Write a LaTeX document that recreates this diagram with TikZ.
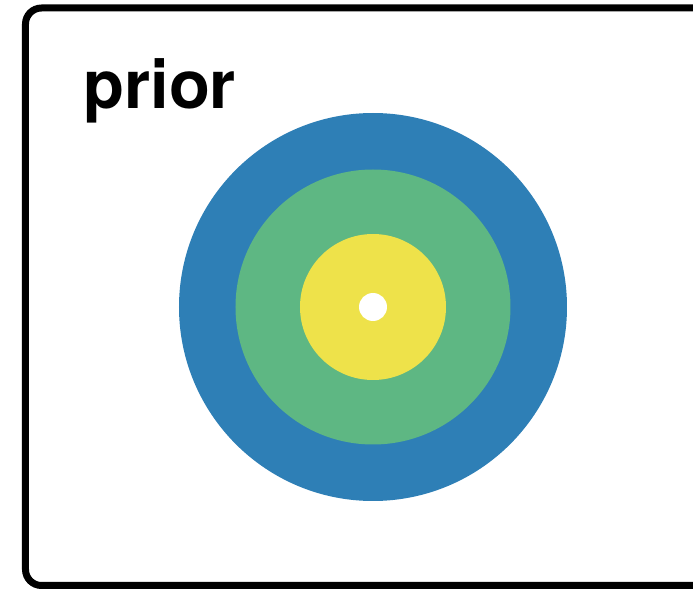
\documentclass[tikz,border=0pt]{standalone}
\usepackage{fontspec}
\setmainfont{TeX Gyre Heros}
\definecolor{cblue}{HTML}{2E7FB6}
\definecolor{cgreen}{HTML}{5EB783}
\definecolor{cyellow}{HTML}{EEE24A}
\begin{document}
\begin{tikzpicture}[x=0.5pt,y=-0.5pt,
  frame/.style={draw=black,line width=3.5pt,rounded corners=8pt},
  ring/.style={circle,inner sep=0pt,draw=none}]
\useasboundingbox (0,0) rectangle (693,589);
\clip (0,0) rectangle (693,589);
\draw[frame] (25.5,8) rectangle (740,585.5);
\node[ring,fill=cblue,minimum size=194pt] (blue) at (373,307) {};
\node[ring,fill=cgreen,minimum size=137.5pt] (green) at (blue.center) {};
\node[ring,fill=cyellow,minimum size=73pt] (yellow) at (blue.center) {};
\node[ring,fill=white,minimum size=14pt] (hole) at (blue.center) {};
\node[anchor=base west,inner sep=0pt,font=\fontsize{33.5pt}{40pt}\selectfont\bfseries] (label) at (83,108) {prior};
\end{tikzpicture}
\end{document}
